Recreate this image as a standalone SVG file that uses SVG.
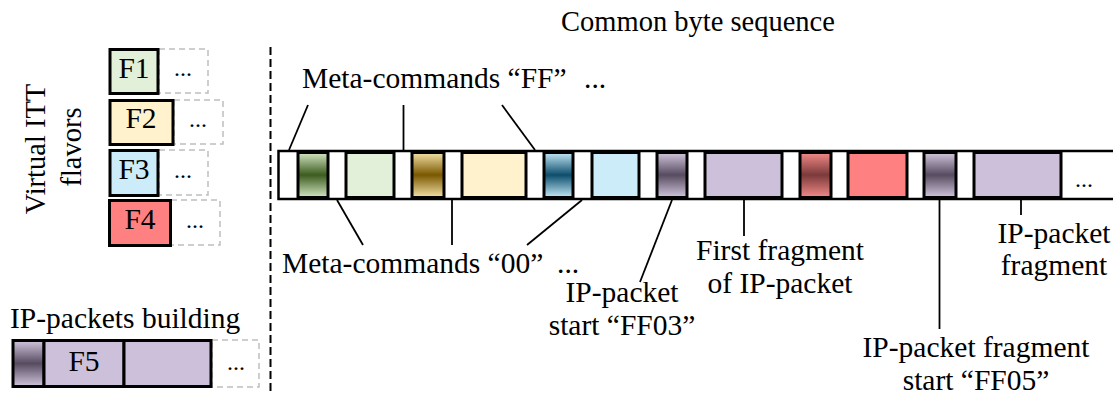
<svg xmlns="http://www.w3.org/2000/svg" width="1113" height="394" viewBox="0 0 1113 394">
<style>
text{font-family:"Liberation Serif",serif;font-size:29.5px;fill:#000}
.mid{text-anchor:middle}
.t{font-size:28.5px}
.box{stroke:#000;stroke-width:3}
.dash{fill:none;stroke:#bfbfbf;stroke-width:1.5;stroke-dasharray:6 4}
.lead{stroke:#000;stroke-width:1.8;fill:none}
.dots{font-size:24px}
</style>
<defs>
<linearGradient id="gG" x1="0" y1="0" x2="0" y2="1"><stop offset="0" stop-color="#d3e6c4"/><stop offset="0.5" stop-color="#3d5c1f"/><stop offset="1" stop-color="#d3e6c4"/></linearGradient>
<linearGradient id="gY" x1="0" y1="0" x2="0" y2="1"><stop offset="0" stop-color="#f5e2a8"/><stop offset="0.5" stop-color="#7a5800"/><stop offset="1" stop-color="#f5e2a8"/></linearGradient>
<linearGradient id="gB" x1="0" y1="0" x2="0" y2="1"><stop offset="0" stop-color="#c4e8f7"/><stop offset="0.5" stop-color="#0d4e6c"/><stop offset="1" stop-color="#c4e8f7"/></linearGradient>
<linearGradient id="gP" x1="0" y1="0" x2="0" y2="1"><stop offset="0" stop-color="#d2c6de"/><stop offset="0.5" stop-color="#574b60"/><stop offset="1" stop-color="#d2c6de"/></linearGradient>
<linearGradient id="gR" x1="0" y1="0" x2="0" y2="1"><stop offset="0" stop-color="#f48a8a"/><stop offset="0.5" stop-color="#7b3a3a"/><stop offset="1" stop-color="#f48a8a"/></linearGradient>
</defs>
<rect width="1113" height="394" fill="#fff"/>

<g id="flavors-label">
<text class="mid t" transform="translate(45,149) rotate(-90)">Virtual ITT</text>
<text class="mid t" transform="translate(81,147) rotate(-90)">flavors</text>
</g>

<g id="F1">
<rect class="dash" x="159" y="49" width="49" height="44"/>
<rect class="box" x="110" y="49.5" width="48" height="44" fill="#e2efd9"/>
<text class="mid" x="134" y="78">F1</text>
<text class="mid dots" x="183" y="76">...</text>
</g>
<g id="F2">
<rect class="dash" x="174" y="100" width="49" height="44"/>
<rect class="box" x="110" y="100.5" width="63" height="44" fill="#fff2cc"/>
<text class="mid" x="141" y="128">F2</text>
<text class="mid dots" x="198" y="127">...</text>
</g>
<g id="F3">
<rect class="dash" x="159" y="150" width="49" height="45"/>
<rect class="box" x="110" y="150.5" width="48" height="45" fill="#ccecf9"/>
<text class="mid" x="134" y="179">F3</text>
<text class="mid dots" x="183" y="178">...</text>
</g>
<g id="F4">
<rect class="dash" x="171" y="200" width="49" height="45"/>
<rect class="box" x="109.5" y="200.5" width="61" height="45" fill="#ff8080"/>
<text class="mid" x="140" y="229">F4</text>
<text class="mid dots" x="195" y="228">...</text>
</g>

<g id="F5-building">
<text x="10" y="328">IP-packets building</text>
<rect class="dash" x="212" y="340" width="47" height="47"/>
<rect class="box" x="13" y="340.5" width="31" height="46" fill="url(#gP)"/>
<rect class="box" x="44" y="340.5" width="80" height="46" fill="#ccc0da"/>
<rect class="box" x="124" y="340.5" width="87" height="46" fill="#ccc0da"/>
<text class="mid" x="84" y="371">F5</text>
<text class="mid dots" x="236" y="370">...</text>
</g>

<g id="divider">
<line x1="270.5" y1="47" x2="270.5" y2="394" stroke="#000" stroke-width="2" stroke-dasharray="8 4"/>
</g>

<g id="title">
<text class="mid t" x="698" y="31">Common byte sequence</text>
</g>

<g id="sequence">
<rect x="278.5" y="151" width="840" height="48" fill="#fff" stroke="#000" stroke-width="2.5"/>
<rect class="box" x="298" y="152.5" width="30" height="45" fill="url(#gG)"/>
<rect class="box" x="346" y="152.5" width="48" height="45" fill="#e2efd9"/>
<rect class="box" x="412" y="152.5" width="32" height="45" fill="url(#gY)"/>
<rect class="box" x="462" y="152.5" width="64" height="45" fill="#fff2cc"/>
<rect class="box" x="544" y="152.5" width="29" height="45" fill="url(#gB)"/>
<rect class="box" x="592" y="152.5" width="47" height="45" fill="#ccecf9"/>
<rect class="box" x="657" y="152.5" width="30" height="45" fill="url(#gP)"/>
<rect class="box" x="705" y="152.5" width="77" height="45" fill="#ccc0da"/>
<rect class="box" x="800" y="152.5" width="31" height="45" fill="url(#gR)"/>
<rect class="box" x="848" y="152.5" width="59" height="45" fill="#ff8080"/>
<rect class="box" x="924" y="152.5" width="32" height="45" fill="url(#gP)"/>
<rect class="box" x="974" y="152.5" width="87" height="45" fill="#ccc0da"/>
<text class="mid dots" x="1084" y="187">...</text>
</g>

<g id="connectors">
<line class="lead" x1="308" y1="105" x2="289" y2="150"/>
<line class="lead" x1="403.5" y1="105" x2="403.5" y2="150"/>
<line class="lead" x1="502" y1="105" x2="535" y2="150"/>
<line class="lead" x1="337" y1="200" x2="363" y2="245"/>
<line class="lead" x1="452" y1="200" x2="452" y2="245"/>
<line class="lead" x1="582" y1="200" x2="527" y2="245"/>
<line class="lead" x1="672" y1="200" x2="640" y2="282"/>
<line class="lead" x1="744" y1="200" x2="744" y2="236"/>
<line class="lead" x1="939.5" y1="200" x2="939.5" y2="329"/>
<line class="lead" x1="1021" y1="200" x2="1021" y2="215"/>
</g>

<g id="labels">
<text x="302" y="88">Meta-commands “FF”</text>
<text x="584" y="88">...</text>
<text x="282" y="273">Meta-commands “00”</text>
<text x="557" y="273">...</text>
<text class="mid" x="622" y="302">IP-packet</text>
<text class="mid" x="622" y="335">start “FF03”</text>
<text class="mid" x="780" y="260">First fragment</text>
<text class="mid" x="780" y="293">of IP-packet</text>
<text class="mid" x="1054" y="243">IP-packet</text>
<text class="mid" x="1054" y="275">fragment</text>
<text class="mid" x="976" y="357">IP-packet fragment</text>
<text class="mid" x="976" y="390">start “FF05”</text>
</g>
</svg>
